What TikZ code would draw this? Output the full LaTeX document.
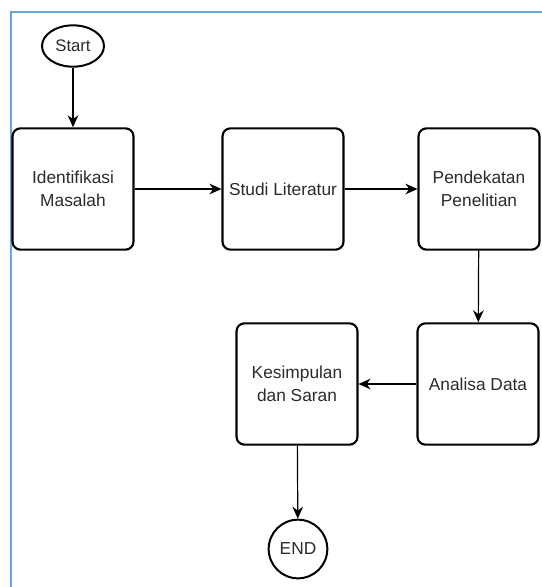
\documentclass[tikz,border=0pt]{standalone}
\usepackage{fontspec}
\setmainfont{Liberation Sans}
\usetikzlibrary{shapes.geometric,arrows.meta}
\definecolor{frameblue}{HTML}{69A8DE}
\definecolor{inktext}{HTML}{2B2B2B}
\tikzset{
  stepbox/.style={draw, line width=1.6pt, rounded corners=6pt,
                  minimum width=90.75pt, minimum height=91pt,
                  align=center, font=\fontsize{13}{17.5}\selectfont,
                  text=inktext, inner sep=1pt},
  startnode/.style={draw, ellipse, line width=1.5pt, minimum width=46.5pt,
                    minimum height=31pt, inner sep=0pt,
                    font=\fontsize{12.5}{15}\selectfont, text=inktext},
  endnode/.style={draw, circle, line width=1.5pt, minimum size=44pt,
                  inner sep=0pt, font=\fontsize{13}{15}\selectfont, text=inktext},
  flow/.style={-{Stealth[length=9pt,width=8pt]}, line width=0.9pt},
}

\begin{document}
\begin{tikzpicture}[x=0.75pt, y=-0.75pt]
    \useasboundingbox (0,0) rectangle (542,587);
    \fill[white] (0,0) rectangle (542,587);
    \draw[frameblue, line width=1.8pt] (11,587) -- (11,12) -- (542,12);
    \node[startnode] (start) at (73, 46) {Start};
    \node[stepbox] (ident) at (73, 189) {Identifikasi\\Masalah};
    \node[stepbox] (studi) at (283, 189) {Studi Literatur};
    \node[stepbox] (pend) at (479, 189) {Pendekatan\\Penelitian};
    \node[stepbox] (analisa) at (478, 384) {Analisa Data};
    \node[stepbox] (kesim) at (297, 384) {Kesimpulan\\dan Saran};
    \node[endnode] (end) at (298, 549) {END};
    \draw[flow] (start) -- (ident);
    \draw[flow] (ident) -- (studi);
    \draw[flow] (studi) -- (pend);
    \draw[flow] (pend) -- (analisa);
    \draw[flow] (analisa) -- (kesim);
    \draw[flow] (kesim) -- (end);
  \end{tikzpicture}
\end{document}
